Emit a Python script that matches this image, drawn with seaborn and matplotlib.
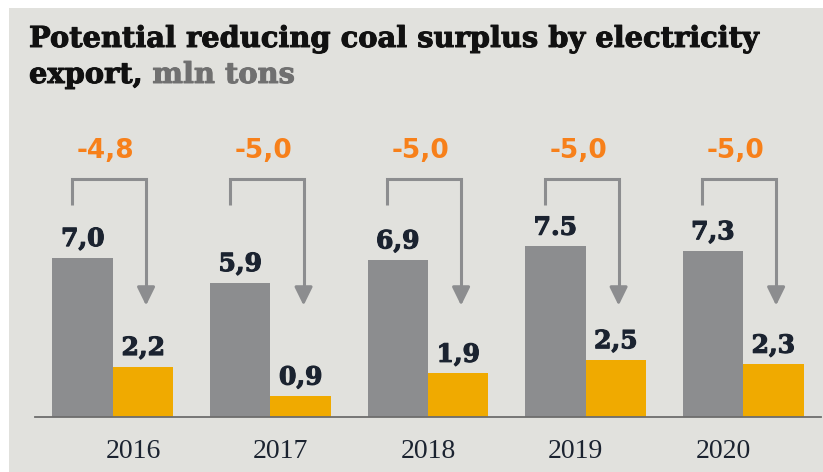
import numpy as np
import pandas as pd
import matplotlib
matplotlib.use("Agg")
import matplotlib.pyplot as plt
from matplotlib.patches import Rectangle
import matplotlib.patheffects as pe
import seaborn as sns

# ---- data ----
years = ["2016", "2017", "2018", "2019", "2020"]
surplus = [7.0, 5.9, 6.9, 7.5, 7.3]
after_export = [2.2, 0.9, 1.9, 2.5, 2.3]
surplus_labels = ["7,0", "5,9", "6,9", "7.5", "7,3"]
after_labels = ["2,2", "0,9", "1,9", "2,5", "2,3"]
diff_labels = ["-4,8", "-5,0", "-5,0", "-5,0", "-5,0"]
series_names = ["Surplus", "After export"]

BG = "#e1e1dd"
GREY = "#8c8d8f"
ORANGE = "#f0aa00"
ORANGE_TXT = "#f7801a"
DARK = "#1b2330"

df = pd.DataFrame({
    "year": years * 2,
    "series": [series_names[0]] * len(years) + [series_names[1]] * len(years),
    "value": surplus + after_export,
})

sns.set_theme(style="white")
plt.rcParams["font.family"] = ["DejaVu Sans"]

W, H = 823, 472
fig = plt.figure(figsize=(W / 100, H / 100), dpi=100, facecolor="white")
fig.patches.append(Rectangle((9 / W, 0), 1 - 9 / W, (H - 8) / H,
                             transform=fig.transFigure, facecolor=BG,
                             edgecolor="none", zorder=-10))

px_per_unit = 22.7
ax_h_px = 300
ax = fig.add_axes([35 / W, 55.5 / H, 786 / W, ax_h_px / H])
ax.set_facecolor("none")

sns.barplot(data=df, x="year", y="value", hue="series", order=years,
            hue_order=series_names, palette=[GREY, ORANGE], saturation=1,
            width=0.768, gap=0, linewidth=0, legend=False, ax=ax)

ax.set_xlim(-0.495, 4.495)
ax.set_ylim(0, ax_h_px / px_per_unit)

for s in ["top", "left", "right"]:
    ax.spines[s].set_visible(False)
ax.spines["bottom"].set_color("#6d6d6d")
ax.spines["bottom"].set_linewidth(1.3)
ax.set_yticks([])
ax.set_xlabel("")
ax.set_ylabel("")

half = 0.192
n = len(years)
xs = np.arange(n)

# year labels (slightly compressed spacing as in reference)
tick_pos = 0.127 + xs * 0.9365
ax.set_xticks(tick_pos)
ax.set_xticklabels(years, family="Liberation Serif", fontsize=20, color=DARK)
ax.tick_params(axis="x", length=0, pad=16)

# value labels
bold_fx = [pe.withStroke(linewidth=0.8, foreground=DARK)]
for i in range(n):
    ax.annotate(surplus_labels[i], (i - half, surplus[i]), xytext=(0, 8.3),
                textcoords="offset points", ha="center", va="baseline",
                family="DejaVu Serif", fontweight="heavy", fontsize=18,
                color=DARK, path_effects=bold_fx)
    ax.annotate(after_labels[i], (i + half, after_export[i]), xytext=(0, 8.3),
                textcoords="offset points", ha="center", va="baseline",
                family="DejaVu Serif", fontweight="heavy", fontsize=18,
                color=DARK, path_effects=bold_fx)

# brackets with arrows and difference labels
y_start, y_top, y_tip = 9.32, 10.48, 4.89
for i in range(n):
    xl = i - 0.26
    xr = i + 0.21
    ax.plot([xl, xl, xr, xr], [y_start, y_top, y_top, y_tip + 0.5],
            color=GREY, lw=2.2, solid_joinstyle="miter",
            solid_capstyle="butt", clip_on=False)
    ax.annotate("", xy=(xr, y_tip), xytext=(xr, y_tip + 0.8),
                arrowprops=dict(arrowstyle="-|>,head_length=0.55,head_width=0.27",
                                mutation_scale=20, color=GREY, lw=2.2,
                                shrinkA=0, shrinkB=0))
    ax.text(i - 0.045, 11.4, diff_labels[i], ha="center", va="baseline",
            family="DejaVu Sans", fontweight="bold", fontsize=19,
            color=ORANGE_TXT)

# title
TITLE_FS = 20.8
tfx_black = [pe.withStroke(linewidth=0.7, foreground="#111111")]
tfx_grey = [pe.withStroke(linewidth=0.7, foreground="#707070")]
t1 = fig.text(29 / W, 1 - 47 / H, "Potential reducing coal surplus by electricity",
              family="DejaVu Serif", fontweight="heavy", fontsize=TITLE_FS,
              color="#111111", va="baseline", ha="left", path_effects=tfx_black)
t2 = fig.text(29 / W, 1 - 83 / H, "export, ",
              family="DejaVu Serif", fontweight="heavy", fontsize=TITLE_FS,
              color="#111111", va="baseline", ha="left", path_effects=tfx_black)
fig.canvas.draw()
bb = t2.get_window_extent()
fig.text(bb.x1 / W, 1 - 83 / H, "mln tons",
         family="DejaVu Serif", fontweight="heavy", fontsize=TITLE_FS,
         color="#707070", va="baseline", ha="left", path_effects=tfx_grey)

fig.savefig("out.png", dpi=100, facecolor="white")
